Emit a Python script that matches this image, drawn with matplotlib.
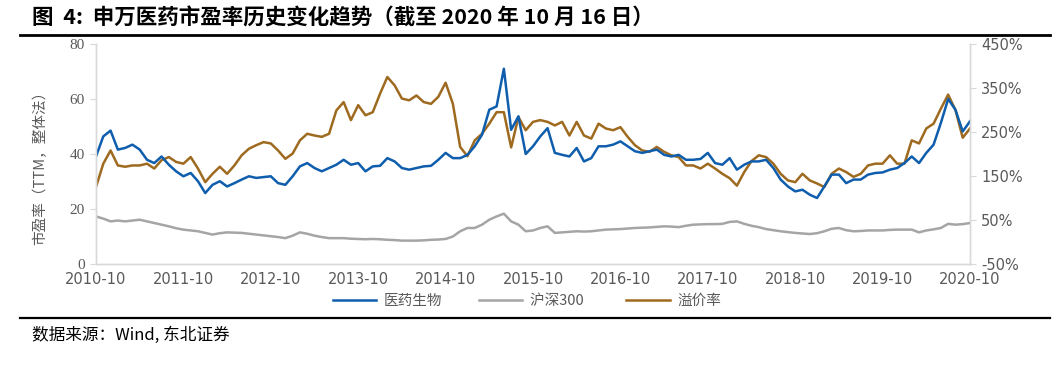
import matplotlib
matplotlib.use("Agg")
import matplotlib.pyplot as plt
import numpy as np

plt.rcParams['font.family'] = ['Noto Sans CJK SC', 'DejaVu Sans']

# monthly readings, 2010-10 .. 2020-10
pe_med = [39.1, 46.4, 48.5, 41.6, 42.2, 43.4, 41.6, 37.9, 36.7, 39.1,
          36.1, 33.7, 31.9, 33.1, 30.1, 25.8, 28.8, 30.1, 28.2, 29.4,
          30.7, 31.9, 31.3, 31.6, 31.9, 29.4, 28.8, 31.9, 35.5, 36.7,
          34.9, 33.7, 34.9, 36.1, 37.9, 36.1, 36.7, 33.7, 35.5, 35.7,
          38.5, 37.3, 34.9, 34.3, 34.9, 35.5, 35.7, 37.9, 40.4, 38.5,
          38.5, 39.7, 42.8, 47.0, 56.1, 57.3, 71.0, 48.8, 53.7, 40.0,
          42.8, 46.4, 49.4, 40.4, 39.7, 39.1, 42.2, 37.3, 38.5, 42.8,
          42.8, 43.4, 44.6, 42.8, 41.0, 40.4, 41.0, 41.6, 39.7, 39.1,
          39.7, 37.9, 37.9, 38.2, 40.4, 36.7, 36.1, 38.5, 34.3, 36.1,
          37.3, 37.3, 37.9, 34.9, 30.7, 28.2, 26.4, 27.0, 25.2, 24.0,
          28.2, 32.5, 32.5, 29.4, 30.7, 30.7, 32.5, 33.1, 33.3, 34.3,
          34.9, 36.7, 39.1, 36.7, 40.4, 43.4, 51.3, 60.0, 56.1, 48.2,
          51.9]
pe_hs300 = [17.3, 16.5, 15.5, 15.8, 15.5, 15.8, 16.1, 15.5, 14.9, 14.3,
            13.7, 13.0, 12.5, 12.2, 11.9, 11.3, 10.7, 11.2, 11.5, 11.4,
            11.3, 11.0, 10.7, 10.4, 10.1, 9.8, 9.4, 10.3, 11.5, 11.0,
            10.3, 9.8, 9.4, 9.4, 9.4, 9.2, 9.1, 9.0, 9.1, 9.0,
            8.8, 8.7, 8.5, 8.5, 8.5, 8.6, 8.8, 8.9, 9.1, 10.0,
            11.9, 13.1, 13.1, 14.3, 16.1, 17.3, 18.3, 15.5, 14.3, 11.9,
            12.2, 13.1, 13.7, 11.3, 11.5, 11.7, 11.9, 11.8, 11.9, 12.2,
            12.5, 12.6, 12.7, 12.9, 13.1, 13.2, 13.3, 13.5, 13.7, 13.6,
            13.4, 13.9, 14.3, 14.4, 14.5, 14.5, 14.6, 15.3, 15.5, 14.6,
            13.9, 13.4, 12.7, 12.3, 11.9, 11.6, 11.3, 11.1, 10.9, 11.2,
            11.9, 12.8, 13.1, 12.3, 11.9, 12.0, 12.2, 12.2, 12.2, 12.4,
            12.5, 12.5, 12.5, 11.5, 12.2, 12.6, 13.1, 14.6, 14.3, 14.5,
            14.9]
premium = [125, 178, 208, 174, 171, 174, 174, 178, 167, 186,
           193, 182, 178, 193, 167, 136, 155, 171, 155, 174,
           197, 212, 220, 227, 224, 208, 189, 201, 231, 246,
           242, 239, 246, 299, 318, 277, 311, 288, 295, 337,
           375, 356, 326, 322, 333, 318, 314, 330, 362, 314,
           216, 195, 231, 246, 269, 295, 295, 215, 284, 254,
           273, 277, 273, 265, 273, 242, 273, 242, 235, 269,
           258, 254, 261, 239, 220, 208, 205, 216, 205, 197,
           193, 174, 174, 167, 178, 167, 155, 145, 128, 159,
           184, 197, 193, 178, 155, 140, 136, 155, 140, 133,
           125, 155, 167, 159, 148, 155, 174, 178, 178, 197,
           178, 178, 231, 224, 258, 269, 303, 335, 300, 237,
           258]
tick_labels = ['2010-10', '2011-10', '2012-10', '2013-10', '2014-10', '2015-10',
               '2016-10', '2017-10', '2018-10', '2019-10', '2020-10']

x = np.arange(len(pe_med))
c_blue = '#0F5DAD'
c_gray = '#A5A5A5'
c_brown = '#9E6A1F'
c_txt = '#595959'
c_axis = '#D9D9D9'

fig = plt.figure(figsize=(10.63, 3.74), dpi=100)
ax = fig.add_axes([96/1063, 1-264/374, 874/1063, 220/374])
ax2 = ax.twinx()

l1, = ax.plot(x, pe_med, color=c_blue, lw=1.8, label='医药生物')
l2, = ax.plot(x, pe_hs300, color=c_gray, lw=1.8, label='沪深300')
l3, = ax2.plot(x, premium, color=c_brown, lw=1.8, label='溢价率')
ax.set_zorder(ax2.get_zorder() + 1)
ax.patch.set_visible(False)

ax.set_xlim(0, len(x) - 1)
ax.set_ylim(0, 80)
ax.set_yticks([0, 20, 40, 60, 80])
ax2.set_ylim(-50, 450)
ax2.set_yticks([-50, 50, 150, 250, 350, 450])
ax2.set_yticklabels([f'{v}%' for v in [-50, 50, 150, 250, 350, 450]])
ax.set_xticks(np.arange(0, len(x), 12))
ax.set_xticklabels(tick_labels)

for a in (ax, ax2):
    a.spines['top'].set_visible(False)
    for s in ('left', 'right', 'bottom'):
        a.spines[s].set_color(c_axis)
        a.spines[s].set_linewidth(1)
ax.tick_params(axis='x', length=0, pad=6, labelsize=10.5, labelcolor=c_txt)
ax.tick_params(axis='y', length=4, color=c_axis, labelsize=11, labelcolor=c_txt, pad=4)
ax2.tick_params(axis='y', length=4, color=c_axis, labelsize=10.5, labelcolor=c_txt, pad=4)
for t in ax.get_xticklabels() + ax2.get_yticklabels():
    t.set_family('DejaVu Sans')
for t in ax.get_yticklabels():
    t.set_family('Liberation Serif')

fig.text(40/1063, 1-164/374, '市盈率（TTM，整体法）', rotation=90, ha='center', va='center',
         fontsize=10.5, color=c_txt)

fig.legend([l1, l2, l3], ['医药生物', '沪深300  ', '溢价率'], loc='center', ncol=3,
           bbox_to_anchor=(527/1063, 1-301/374), frameon=False, fontsize=10.5,
           labelcolor=c_txt, handlelength=3, columnspacing=2.5, handletextpad=0.5)

fig.text(32/1063, 1-18/374, '图  4:  申万医药市盈率历史变化趋势（截至 2020 年 10 月 16 日）',
         fontsize=15.5, fontweight='bold', va='center', ha='left')
fig.add_artist(plt.Line2D([20/1063, 1050/1063], [1-35/374, 1-35/374], color='black', lw=2))
fig.add_artist(plt.Line2D([20/1063, 1050/1063], [1-318/374, 1-318/374], color='black', lw=1.6))
fig.text(32/1063, 1-335/374, '数据来源：Wind, 东北证券', fontsize=12, va='center', ha='left')

fig.savefig('out.png', dpi=100)
